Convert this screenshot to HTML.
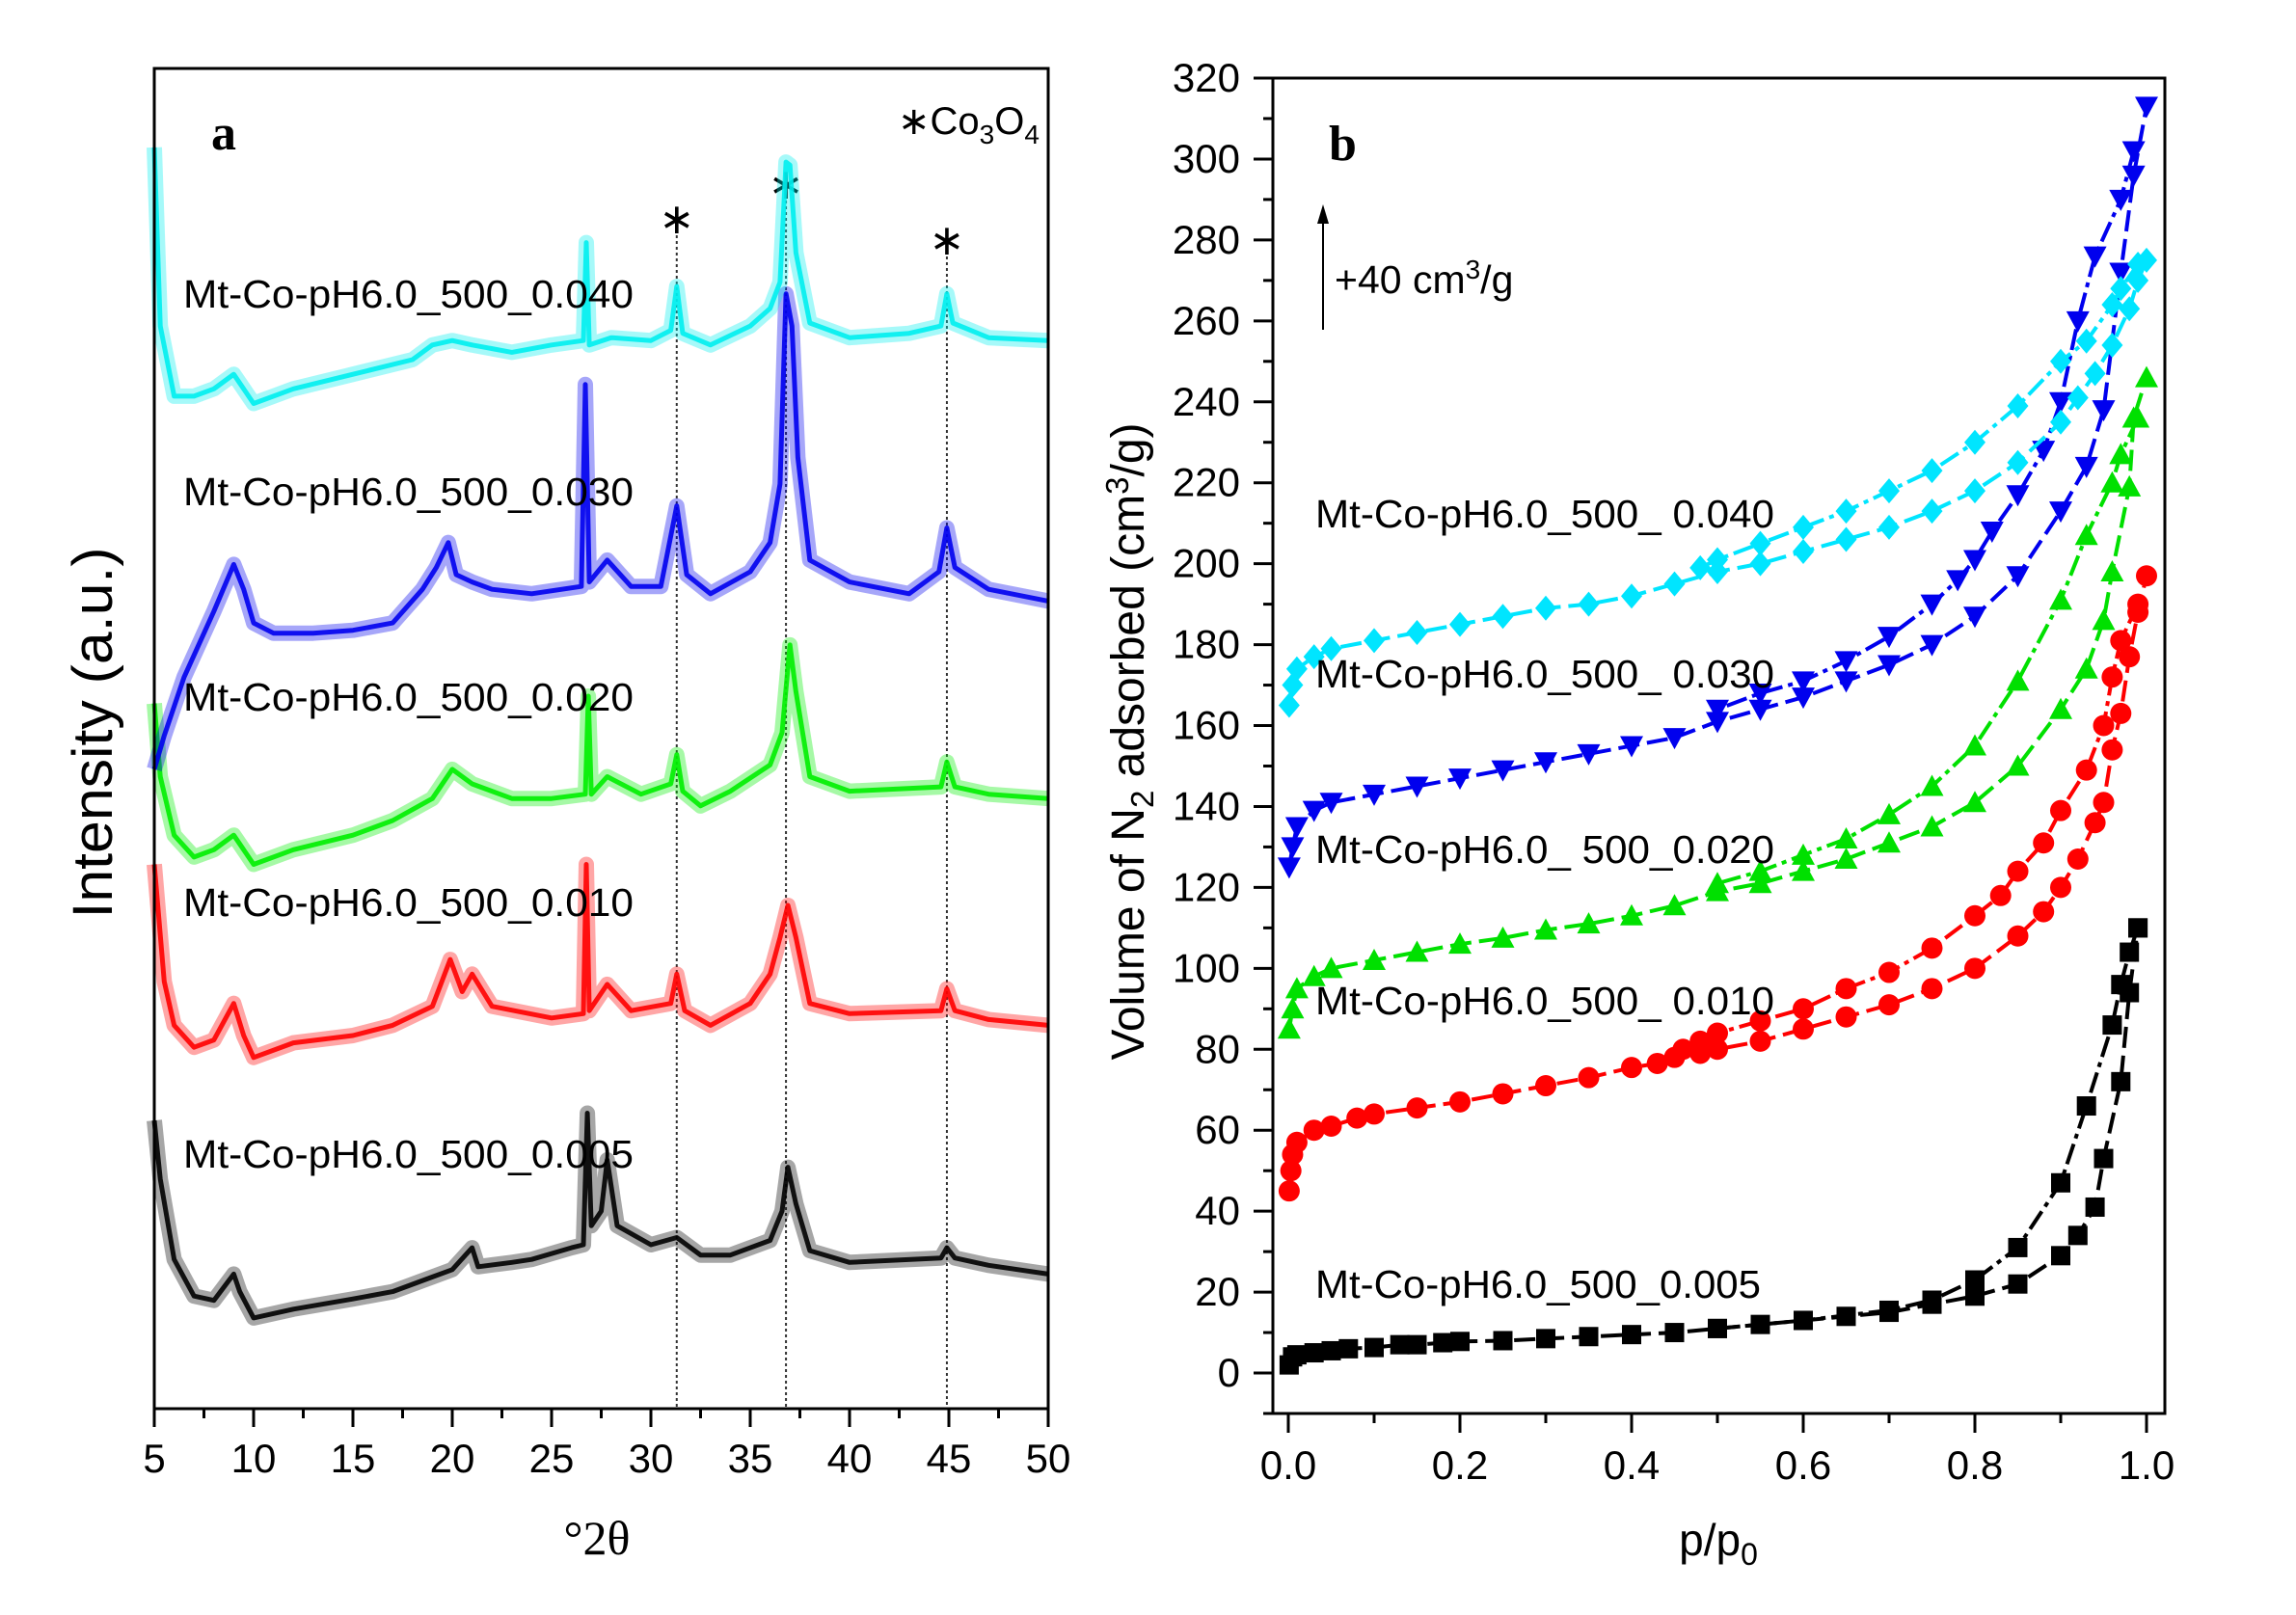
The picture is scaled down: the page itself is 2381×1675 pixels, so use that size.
<!DOCTYPE html>
<html><head><meta charset="utf-8">
<style>
html,body{margin:0;padding:0;background:#fff;}
svg{display:block;font-family:"Liberation Sans",sans-serif;}
</style></head>
<body>
<svg id="fig" width="2381" height="1675" viewBox="0 0 2381 1675" xmlns="http://www.w3.org/2000/svg">
<rect width="2381" height="1675" fill="#fff"/>
<g id="pa"></g>
<g id="pb"></g>
</svg>
<script>
// ---------- Panel a data (XRD, 2theta vs intensity a.u.) ----------
const xrdCategories = ["Mt-Co-pH6.0_500_0.005","Mt-Co-pH6.0_500_0.010","Mt-Co-pH6.0_500_0.020","Mt-Co-pH6.0_500_0.030","Mt-Co-pH6.0_500_0.040"];
const xrdXTicks = [5,10,15,20,25,30,35,40,45,50];
const co3o4Peaks = [31.3,36.8,44.9];
const xrdBlackX = [5,5.3,6,7,8,9,9.3,10,12,15,17,19,20,21,21.3,23,24,26,26.6,26.8,27,27.5,27.8,28.3,30,31.3,32.5,34,36,36.6,36.9,37.3,38,40,44.6,44.9,45.3,47,50];
const xrdBlackY = [197,157,102,77,74,92,80,62,68,75,80,90,95,110,97,100,102,110,112,202,125,135,170,125,112,117,105,105,115,135,165,140,108,100,103,110,103,98,92];
const xrdRedX = [5,5.5,6,7,8,9,9.5,10,12,15,17,19,19.9,20.5,21,22,25,26.6,26.75,26.9,27.8,29,31,31.3,31.7,33,35,36,36.5,36.9,37.3,38,40,44.6,44.9,45.3,47,50];
const xrdRedY = [372,292,262,247,252,277,255,240,250,255,262,275,307,285,297,275,267,270,372,272,290,272,277,297,272,262,277,297,322,344,322,277,270,272,287,272,266,262];
const xrdGreenX = [5,5.3,6,7,8,9,10,12,15,17,19,20,21,23,25,26.7,26.85,27,27.8,29.5,31,31.3,31.6,32.5,34,36,36.6,37,37.3,38,40,44.6,44.9,45.3,47,50];
const xrdGreenY = [482,432,392,377,382,392,372,382,392,402,417,437,427,417,417,420,487,420,432,420,427,447,422,412,422,440,462,522,490,432,422,425,442,425,420,417];
const xrdBlueX = [5,5.5,6.5,8,9,9.5,10,11,13,15,17,18.5,19.2,19.8,20.2,21,22,24,26.5,26.7,26.9,27.8,29,30.5,31.3,31.8,33,35,36,36.5,36.8,37.1,37.4,38,40,43,44.5,44.9,45.3,47,50];
const xrdBlueY = [437,460,500,545,577,560,537,530,530,532,537,560,575,592,570,565,560,557,562,700,565,580,562,562,617,570,557,572,592,632,762,740,650,580,565,557,572,602,575,560,552];
const xrdCyanX = [5,5.3,6,7,8,9,10,12,15,18,19,20,21,23,25,26.6,26.75,26.9,28,30,31,31.3,31.6,33,35,36,36.5,36.8,37,37.3,38,40,43,44.6,44.9,45.2,47,50];
const xrdCyanY = [862,740,692,692,697,707,687,697,707,717,727,730,727,722,727,730,797,727,732,730,737,767,735,727,740,752,770,852,850,790,742,732,735,740,762,742,732,730];

// ---------- Panel b data (N2 isotherms) ----------
const isoYTicks = [0,20,40,60,80,100,120,140,160,180,200,220,240,260,280,300,320];
const isoXTicks = [0.0,0.2,0.4,0.6,0.8,1.0];
const blackAdsP = [0.001,0.005,0.01,0.03,0.05,0.07,0.1,0.13,0.15,0.18,0.2,0.25,0.3,0.35,0.4,0.45,0.5,0.55,0.6,0.65,0.7,0.75,0.8,0.85,0.9,0.92,0.94,0.95,0.97,0.98,0.99];
const blackAdsV = [2,4,4.5,5,5.5,6,6.3,7,7,7.5,7.8,8,8.5,9,9.5,10,11,12,13,14,15,17,19,22,29,34,41,53,72,94,110];
const blackDesP = [0.99,0.98,0.97,0.96,0.93,0.9,0.85,0.8,0.75,0.7,0.6,0.5];
const blackDesV = [110,104,96,86,66,47,31,23,18,15.5,13,11];
const redAdsP = [0.001,0.003,0.005,0.01,0.03,0.05,0.08,0.1,0.15,0.2,0.25,0.3,0.35,0.4,0.43,0.45,0.48,0.5,0.55,0.6,0.65,0.7,0.75,0.8,0.85,0.88,0.9,0.92,0.94,0.95,0.96,0.97,0.98,0.99,1.0];
const redAdsV = [45,50,54,57,60,61,63,64,65.5,67,69,71,73,75.5,76.5,78,79,80,82,85,88,91,95,100,108,114,120,127,136,141,154,163,177,188,197];
const redDesP = [0.99,0.97,0.96,0.95,0.93,0.9,0.88,0.85,0.83,0.8,0.75,0.7,0.65,0.6,0.55,0.5,0.48,0.46];
const redDesV = [190,181,172,160,149,139,131,124,118,113,105,99,95,90,87,84,82,80];
const greenAdsP = [0.001,0.005,0.01,0.03,0.05,0.1,0.15,0.2,0.25,0.3,0.35,0.4,0.45,0.5,0.55,0.6,0.65,0.7,0.75,0.8,0.85,0.9,0.93,0.95,0.96,0.98,0.985,1.0];
const greenAdsV = [85,90,95,98,100,102,104,106,107.5,109.5,111,113,115.5,119,121,124,127,131,135,141,150,164,174,186,198,219,236,246];
const greenDesP = [0.99,0.97,0.96,0.93,0.9,0.85,0.8,0.75,0.7,0.65,0.6,0.55,0.5];
const greenDesV = [236,227,220,207,191,171,155,145,138,132,128,124,121];
const blueAdsP = [0.001,0.005,0.01,0.03,0.05,0.1,0.15,0.2,0.25,0.3,0.35,0.4,0.45,0.5,0.55,0.6,0.65,0.7,0.75,0.8,0.85,0.9,0.93,0.95,0.97,0.985,1.0];
const blueAdsV = [125,130,135,139,141,143,145,147,149,151,153,155,157,161,164,167,171,175,180,187,197,213,224,238,272,296,313];
const blueDesP = [0.985,0.97,0.94,0.92,0.9,0.88,0.85,0.82,0.8,0.78,0.75,0.7,0.65,0.6,0.55,0.5];
const blueDesV = [302,290,276,260,240,228,217,208,201,196,190,182,176,171,168,164];
const cyanAdsP = [0.001,0.005,0.01,0.03,0.05,0.1,0.15,0.2,0.25,0.3,0.35,0.4,0.45,0.5,0.55,0.6,0.65,0.7,0.75,0.8,0.85,0.9,0.92,0.94,0.96,0.98,0.99,1.0];
const cyanAdsV = [165,170,174,177,179,181,183,185,187,189,190,192,195,198,200,203,206,209,213,218,225,235,241,247,254,263,270,275];
const cyanDesP = [0.99,0.97,0.96,0.93,0.9,0.85,0.8,0.75,0.7,0.65,0.6,0.55,0.5,0.48];
const cyanDesV = [274,268,264,255,250,239,230,223,218,213,209,205,201,199];

const NS="http://www.w3.org/2000/svg";
function mk(parent,tag,attrs,text){const e=document.createElementNS(NS,tag);for(const k in attrs)e.setAttribute(k,attrs[k]);if(text!==undefined)e.textContent=text;parent.appendChild(e);return e;}

// ===== Panel a =====
const pa=document.getElementById('pa');
const AX0=160,AX1=1087,AY0=71,AY1=1461;
const ax=v=>AX0+(v-5)/45*(AX1-AX0);
const ay=v=>AY1-v/916*(AY1-AY0);
co3o4Peaks.forEach((p,i)=>{
  const l=mk(pa,'line',{x1:ax(p),x2:ax(p),y1:[232,196,254][i],y2:AY1,stroke:'#333','stroke-width':2,'stroke-dasharray':'3,3'});
  
  
  const s=mk(pa,'text',{x:ax(p),y:[242,206,264][i],'font-size':44,'text-anchor':'middle'},'∗');
  
  
});
const xrdSeries=[[xrdBlackX,xrdBlackY,'#000'],[xrdRedX,xrdRedY,'#ff0000'],[xrdGreenX,xrdGreenY,'#00ee00'],[xrdBlueX,xrdBlueY,'#0000ee'],[xrdCyanX,xrdCyanY,'#00eeee']];
xrdSeries.forEach((s,i)=>{
  const d=s[0].map((x,j)=>(j?'L':'M')+ax(x).toFixed(1)+','+ay(s[1][j]).toFixed(1)).join('');
  const band=mk(pa,'path',{d:d,fill:'none',stroke:s[2],'stroke-width':16,'stroke-linejoin':'round','stroke-opacity':0.35});
  
  
  const p=mk(pa,'path',{d:d,fill:'none',stroke:s[2],'stroke-width':5,'stroke-linejoin':'round','stroke-opacity':0.9});
  
  
});
const aLabelY=[1211,950,737,524,319];
xrdCategories.forEach((c,i)=>{
  const t=mk(pa,'text',{x:190,y:aLabelY[i],'font-size':41,textLength:467,lengthAdjust:'spacingAndGlyphs'},c);
  
  
});
const frameA=mk(pa,'rect',{x:AX0,y:AY0,width:AX1-AX0,height:AY1-AY0,fill:'none',stroke:'#000','stroke-width':3});


for(let v=5;v<=50;v+=2.5){const maj=(v%5===0);mk(pa,'line',{x1:ax(v),x2:ax(v),y1:AY1,y2:AY1+(maj?19:10),stroke:'#000','stroke-width':3});}
xrdXTicks.forEach(v=>{
  const t=mk(pa,'text',{x:ax(v),y:1527,'font-size':42,'text-anchor':'middle'},String(v));
  
  
});
let t;
t=mk(pa,'text',{x:619,y:1612,'font-size':50,'text-anchor':'middle','font-family':'Liberation Serif, serif'},'°2θ');

t=mk(pa,'text',{x:0,y:0,'font-size':58,'text-anchor':'middle',transform:'translate(116,760) rotate(-90)',textLength:385,lengthAdjust:'spacingAndGlyphs'},'Intensity (a.u.)');

t=mk(pa,'text',{x:219,y:155,'font-size':52,'font-weight':'bold','font-family':'Liberation Serif, serif'},'a');

t=mk(pa,'text',{x:931,y:139,'font-size':40});

t.innerHTML='<tspan>∗Co</tspan><tspan font-size="28" dy="10">3</tspan><tspan dy="-10">O</tspan><tspan font-size="28" dy="10">4</tspan>';

// ===== Panel b =====
const pb=document.getElementById('pb');
const BX0=1320,BX1=2245,BY0=81,BY1=1466;
const bx=v=>1336+v*(2226-1336);
const by=v=>81+(320-v)/330*(BY1-BY0);
const isoSeries=[
 ['0.005','#000','square',blackAdsP,blackAdsV,blackDesP,blackDesV],
 ['0.010','#ff0000','circle',redAdsP,redAdsV,redDesP,redDesV],
 ['0.020','#00e000','up',greenAdsP,greenAdsV,greenDesP,greenDesV],
 ['0.030','#0000ee','down',blueAdsP,blueAdsV,blueDesP,blueDesV],
 ['0.040','#00e5ff','diamond',cyanAdsP,cyanAdsV,cyanDesP,cyanDesV]];
function marker(g,shape,x,y,col){
  const r=10;let e;
  if(shape==='square')e=mk(g,'rect',{x:x-r,y:y-r,width:2*r,height:2*r,fill:col});
  else if(shape==='circle')e=mk(g,'circle',{cx:x,cy:y,r:r+1,fill:col});
  else if(shape==='up')e=mk(g,'polygon',{points:`${x},${y-r-2} ${x-r-2},${y+r} ${x+r+2},${y+r}`,fill:col});
  else if(shape==='down')e=mk(g,'polygon',{points:`${x},${y+r+2} ${x-r-2},${y-r} ${x+r+2},${y-r}`,fill:col});
  else e=mk(g,'polygon',{points:`${x},${y-r-3} ${x+r+1},${y} ${x},${y+r+3} ${x-r-1},${y}`,fill:col});
  
  
}
isoSeries.forEach(s=>{
  const g=mk(pb,'g',{});
  
  
  [[s[3],s[4],'22,8'],[s[5],s[6],'22,6,5,6']].forEach(br=>{
    const d=br[0].map((p,j)=>(j?'L':'M')+bx(p).toFixed(1)+','+by(br[1][j]).toFixed(1)).join('');
    const l=mk(g,'path',{d:d,fill:'none',stroke:s[1],'stroke-width':4,'stroke-dasharray':br[2]});
    
    
    br[0].forEach((p,j)=>marker(g,s[2],bx(p),by(br[1][j]),s[1]));
  });
});
const frameB=mk(pb,'rect',{x:BX0,y:BY0,width:BX1-BX0,height:BY1-BY0,fill:'none',stroke:'#000','stroke-width':3});


for(let v=-10;v<=320;v+=10){const maj=(v%20===0);mk(pb,'line',{x1:BX0-(maj?20:10),x2:BX0,y1:by(v),y2:by(v),stroke:'#000','stroke-width':3});}
for(let v=0;v<=1.0001;v+=0.1){const maj=(Math.round(v*10)%2===0);mk(pb,'line',{x1:bx(v),x2:bx(v),y1:BY1,y2:BY1+(maj?20:10),stroke:'#000','stroke-width':3});}
isoYTicks.forEach(v=>{
  const e=mk(pb,'text',{x:1286,y:by(v)+14,'font-size':42,'text-anchor':'end'},String(v));
  
});
isoXTicks.forEach(v=>{
  const e=mk(pb,'text',{x:bx(v),y:1534,'font-size':42,'text-anchor':'middle'},v.toFixed(1));
  
});
t=mk(pb,'text',{x:1782,y:1613,'font-size':46,'text-anchor':'middle'});
t.innerHTML='p/p<tspan font-size="32" dy="10">0</tspan>';

t=mk(pb,'text',{x:0,y:0,'font-size':48,'text-anchor':'middle',transform:'translate(1186,769) rotate(-90)'});
t.innerHTML='Volume of N<tspan font-size="33" dy="10">2</tspan><tspan dy="-10"> adsorbed (cm</tspan><tspan font-size="33" dy="-16">3</tspan><tspan dy="16">/g)</tspan>';

const bLabelY=[1346,1052,895,713,547];
const bLabels=["Mt-Co-pH6.0_500_0.005","Mt-Co-pH6.0_500_ 0.010","Mt-Co-pH6.0_ 500_0.020","Mt-Co-pH6.0_500_ 0.030","Mt-Co-pH6.0_500_ 0.040"];
bLabels.forEach((c,i)=>{
  const e=mk(pb,'text',{x:1364,y:bLabelY[i],'font-size':41,textLength:i===0?462:476,lengthAdjust:'spacingAndGlyphs'},c);
  
});
t=mk(pb,'text',{x:1378,y:166,'font-size':52,'font-weight':'bold','font-family':'Liberation Serif, serif'},'b');

t=mk(pb,'line',{x1:1372,x2:1372,y1:342,y2:228,stroke:'#000','stroke-width':2});

t=mk(pb,'polygon',{points:'1372,212 1366,232 1378,232',fill:'#000'});

t=mk(pb,'text',{x:1384,y:304,'font-size':41});
t.innerHTML='+40 cm<tspan font-size="28" dy="-15">3</tspan><tspan dy="15">/g</tspan>';

</script>
</body></html>
